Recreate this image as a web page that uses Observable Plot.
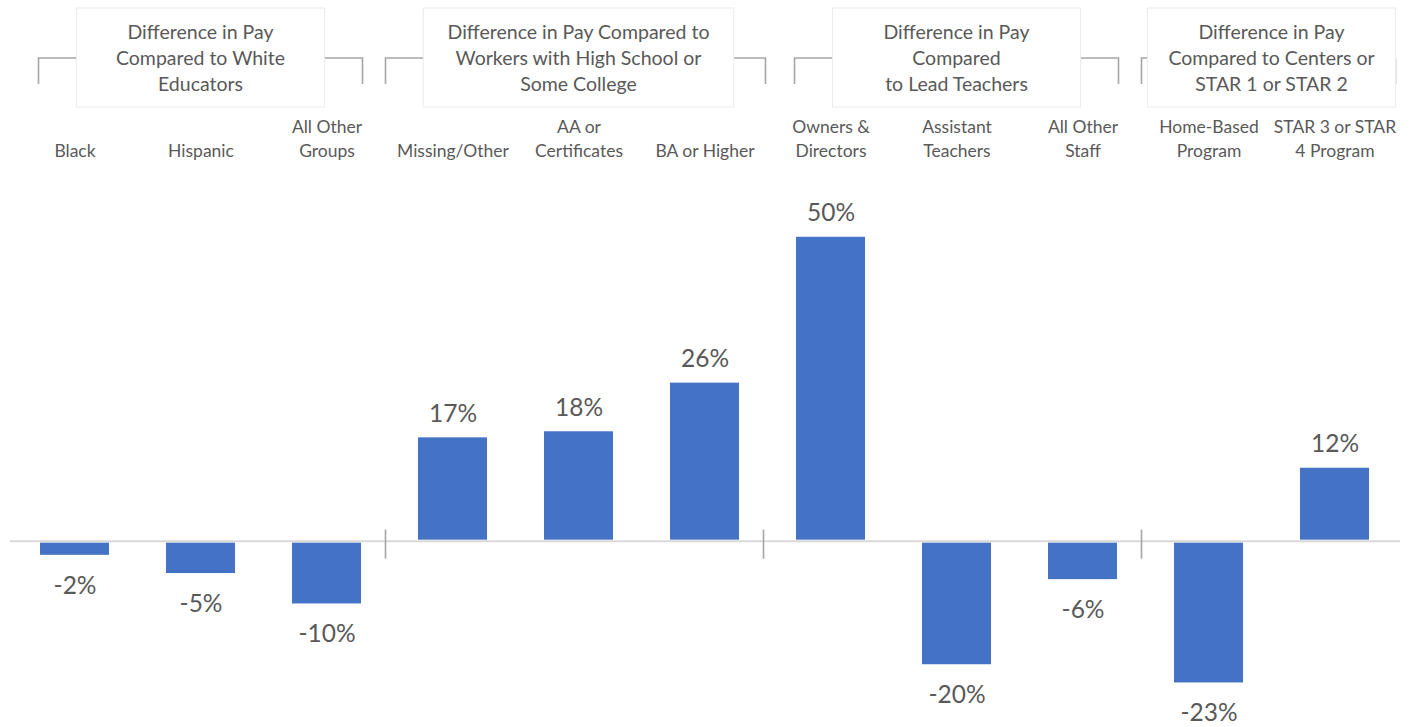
<!DOCTYPE html>
<html><head><meta charset="utf-8">
<script src="https://cdn.jsdelivr.net/npm/d3@7"></script>
<script src="https://cdn.jsdelivr.net/npm/@observablehq/plot@0.6"></script>
<style>body{margin:0;background:#fff;overflow:hidden;}</style>
</head><body><div id="chart"></div>
<script>
// ---- data ----
const categories = ["Black", "Hispanic", "All Other\nGroups", "Missing/Other", "AA or\nCertificates", "BA or Higher",
  "Owners &\nDirectors", "Assistant\nTeachers", "All Other\nStaff", "Home-Based\nProgram", "STAR 3 or STAR\n4 Program"];
const values = [-2, -5, -10, 17, 18, 26, 50, -20, -6, -23, 12];
const groupLabels = [
  "Difference in Pay\nCompared to White\nEducators",
  "Difference in Pay Compared to\nWorkers with High School or\nSome College",
  "Difference in Pay\nCompared\nto Lead Teachers",
  "Difference in Pay\nCompared to Centers or\nSTAR 1 or STAR 2"];
const groupSizes = [3, 3, 3, 2];

const data = categories.map((c, i) => ({cat: c, value: values[i]}));
let start = 0;
const groups = groupLabels.map((g, i) => {
  const o = {label: g, first: categories[start], last: categories[start + groupSizes[i] - 1]};
  start += groupSizes[i];
  return o;
});

const GRAY = "#595959";
const PAD_INNER = 0.45;

function header(index, scales, vals, dims) {
  const x = scales.x, y = scales.y;
  const step = x(categories[1]) - x(categories[0]);
  const bw = x.bandwidth ? x.bandwidth() : step * (1 - PAD_INNER);
  const gap = (step - bw) / 2;
  const y0 = y(0);
  const g = d3.create("svg:g");
  groups.forEach((grp, i) => {
    const left = x(grp.first) - gap, right = x(grp.last) + bw + gap;
    const cx = (left + right) / 2;
    const lines = grp.label.split("\n");
    const longest = d3.max(lines, l => l.length);
    const boxW = Math.max(248, longest * 9.6 + 32);
    const bl = cx - boxW / 2, br = cx + boxW / 2;
    const sl = Math.max(left - 4, bl - 38);
    const sr = Math.min(right - 2, br + 38, dims.width - 2);
    // bracket
    g.append("path")
      .attr("d", `M${sl},84V58H${bl}M${br},58H${sr}V84`)
      .attr("fill", "none").attr("stroke", "#a6a6a6").attr("stroke-width", 1.6);
    // box
    g.append("rect").attr("x", bl).attr("y", 8).attr("width", boxW).attr("height", 99)
      .attr("fill", "#fff").attr("stroke", "#ececec").attr("stroke-width", 1);
    const t = g.append("text").attr("text-anchor", "middle").attr("fill", GRAY)
      .attr("font-size", 19.5);
    lines.forEach((l, j) => {
      t.append("tspan").attr("x", cx).attr("y", 32 + j * 26).attr("dy", "0.35em").text(l);
    });
    // boundary tick on the baseline
    if (i > 0) {
      g.append("line").attr("x1", left - 4).attr("x2", left - 4).attr("y1", y0 - 11).attr("y2", y0 + 18)
        .attr("stroke", "#a6a6a6").attr("stroke-width", 1.6);
    }
  });
  return g.node();
}

const chart = Plot.plot({
  width: 1410,
  height: 727,
  marginLeft: 10,
  marginRight: 10,
  marginTop: 176,
  marginBottom: 4,
  style: {fontFamily: "Lato, 'Open Sans', sans-serif", background: "#fff"},
  x: {domain: categories, paddingInner: PAD_INNER, paddingOuter: PAD_INNER / 2, axis: null},
  y: {domain: [-30, 60], axis: null},
  marks: [
    Plot.axisX({anchor: "top", tickSize: 0, tickPadding: 20, fontSize: 17.5, lineHeight: 1.37, color: GRAY, label: null}),
    Plot.ruleY([0], {stroke: "#d9d9d9", strokeWidth: 2}),
    Plot.barY(data.filter(d => d.value >= 0), {x: "cat", y: "value", fill: "#4472C4", insetBottom: 1}),
    Plot.barY(data.filter(d => d.value < 0), {x: "cat", y: "value", fill: "#4472C4", dy: 2}),
    Plot.text(data.filter(d => d.value >= 0), {x: "cat", y: "value", text: d => d.value + "%", lineAnchor: "bottom", dy: -16, fontSize: 24.5, fill: GRAY}),
    Plot.text(data.filter(d => d.value < 0), {x: "cat", y: "value", text: d => d.value + "%", lineAnchor: "top", dy: 23, fontSize: 24.5, fill: GRAY}),
    header
  ]
});
document.getElementById("chart").appendChild(chart);
</script>
</body></html>
